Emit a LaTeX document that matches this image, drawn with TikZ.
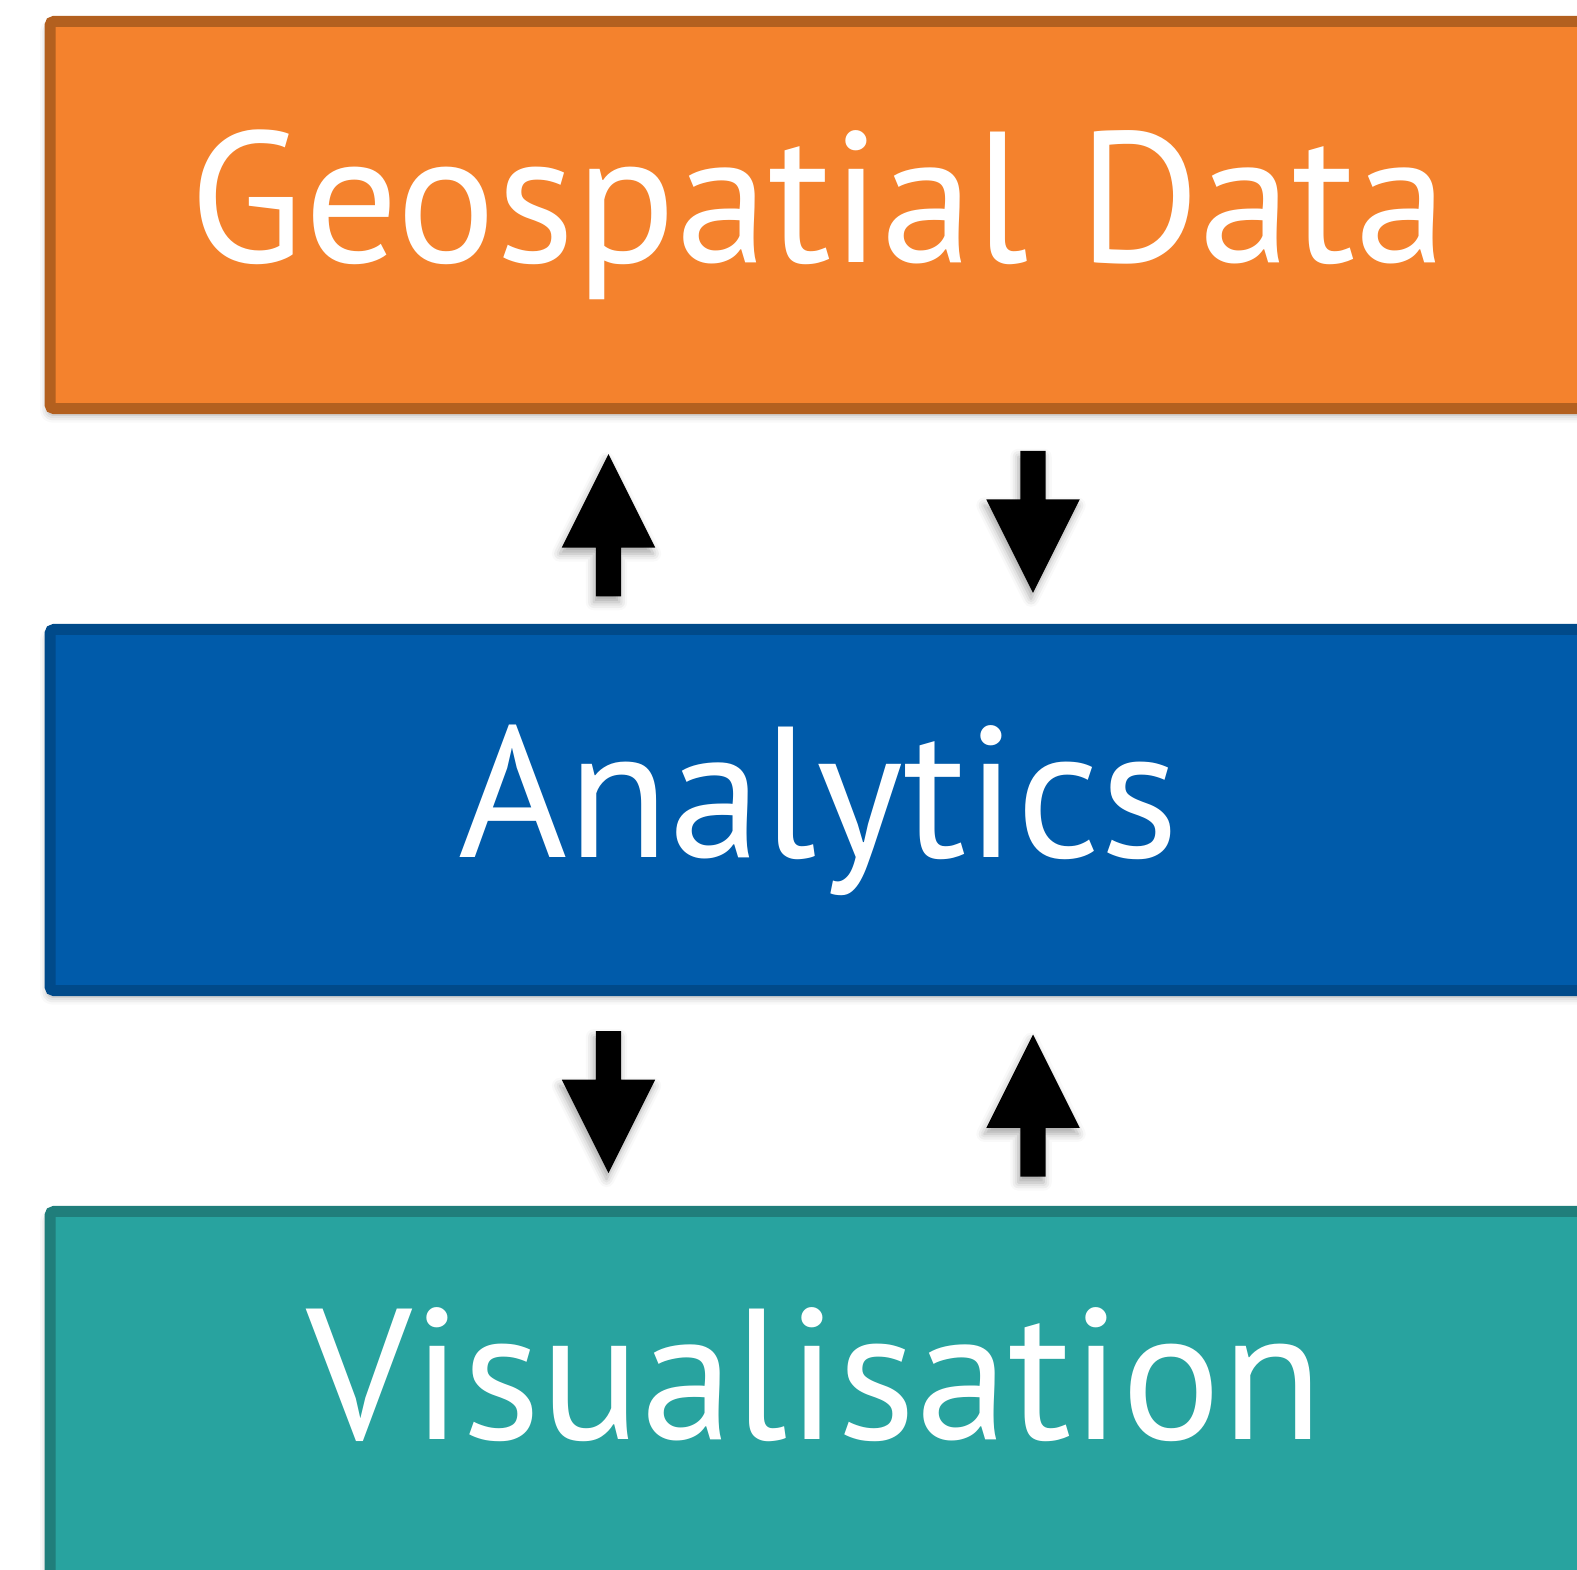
\documentclass[tikz,border=0pt]{standalone}
\usepackage{fontspec}
\setmainfont{PT Sans}
\usepackage{xcolor}
\usetikzlibrary{shapes.arrows,shadows.blur}

\definecolor{geofill}{RGB}{244,130,45}
\definecolor{geoline}{RGB}{179,96,31}
\definecolor{anafill}{RGB}{0,91,170}
\definecolor{analine}{RGB}{0,74,138}
\definecolor{visfill}{RGB}{40,163,159}
\definecolor{visline}{RGB}{32,126,123}

\begin{document}
\begin{tikzpicture}[x=0.01cm,y=-0.01cm,
  softshadow/.style={blur shadow={shadow xshift=-0.02cm,shadow yshift=-0.06cm,shadow blur radius=0.08cm,shadow opacity=35}},
  layertext/.style={text=white,font=\fontsize{53}{60}\selectfont},
  layer/.style={draw,line width=0.11cm,rounded corners=0.04cm,minimum width=15.37cm,minimum height=3.87cm,inner sep=0,layertext,softshadow},
  flow/.style={single arrow,fill=black,inner sep=0,inner ysep=0.12cm,minimum height=1.42cm,minimum width=0.92cm,
    single arrow head extend=0.34cm,single arrow tip angle=53.13,softshadow}]
\useasboundingbox (0,0) rectangle (1577,1569);
\clip (0,0) rectangle (1577,1569);

\node[layer,fill=geofill,draw=geoline] (geo) at (819,215) {Geospatial Data};
\node[layer,fill=anafill,draw=analine,minimum height=3.61cm] (ana) at (819,810) {Analytics};
\node[layer,fill=visfill,draw=visline] (vis) at (819,1405) {};
\node[layertext] (vislabel) at (815,1375) {Visualisation};

% geo <-> analytics
\node[flow,rotate=90,anchor=tip] (geoup) at (608.5,452.6) {};
\node[flow,rotate=-90,anchor=tip] (geodown) at (1033,594.4) {};
% analytics <-> vis
\node[flow,rotate=-90,anchor=tip] (visdown) at (608.5,1174.7) {};
\node[flow,rotate=90,anchor=tip] (visup) at (1033,1032.9) {};
\end{tikzpicture}
\end{document}
